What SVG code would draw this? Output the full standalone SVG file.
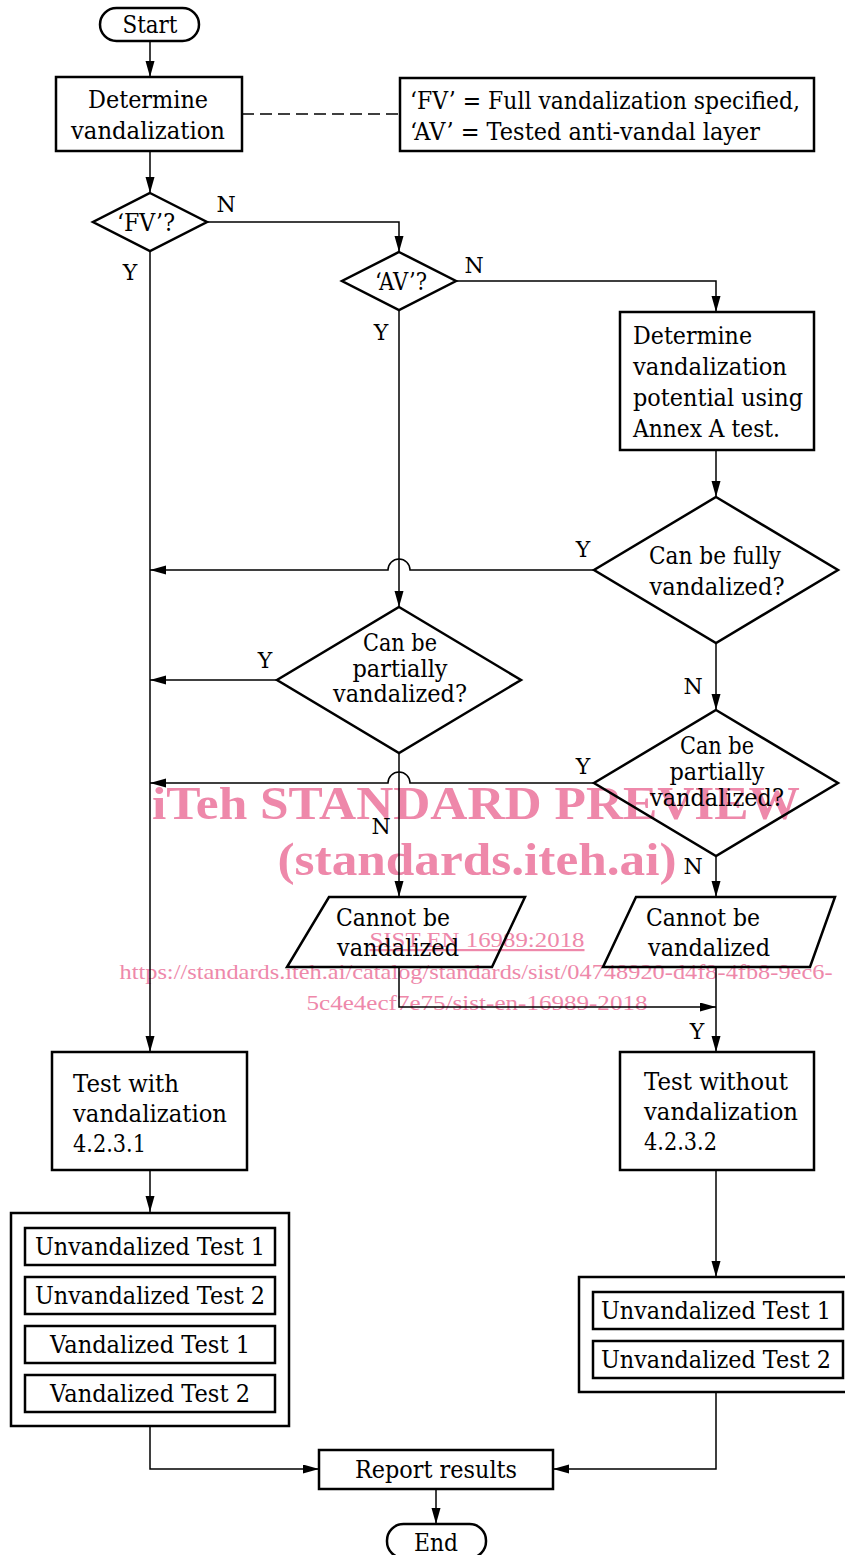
<svg xmlns="http://www.w3.org/2000/svg" width="845" height="1555" viewBox="0 0 845 1555">
<style>
.n{fill:none;stroke:#000;stroke-width:2.5}
.c{fill:none;stroke:#000;stroke-width:1.5}
.t{font-family:"DejaVu Serif","Liberation Serif",serif;font-size:24px;fill:#000}
.m{text-anchor:middle}
.l{font-family:"DejaVu Serif","Liberation Serif",serif;font-size:22px;fill:#000;text-anchor:middle}
.w{font-family:"Liberation Serif",serif;fill:#ee88aa}
</style>
<defs>
<marker id="a" markerUnits="userSpaceOnUse" markerWidth="17" markerHeight="10" refX="16" refY="4.5" orient="auto">
<path d="M0,0 L16,4.5 L0,9 z" fill="#000"/>
</marker>
</defs>
<rect width="845" height="1555" fill="#fff"/>
<g id="watermark">
<text class="w" x="476" y="819" font-size="46" font-weight="bold" text-anchor="middle" textLength="648" lengthAdjust="spacingAndGlyphs">iTeh STANDARD PREVIEW</text>
<text class="w" x="477" y="875" font-size="46" font-weight="bold" text-anchor="middle" textLength="399" lengthAdjust="spacingAndGlyphs">(standards.iteh.ai)</text>
<text class="w" x="477" y="947" font-size="22" text-anchor="middle" text-decoration="underline" textLength="215" lengthAdjust="spacingAndGlyphs">SIST EN 16989:2018</text>
<text class="w" x="476" y="979" font-size="22" text-anchor="middle" textLength="713" lengthAdjust="spacingAndGlyphs">https://standards.iteh.ai/catalog/standards/sist/04748920-d4f8-4fb8-9ec6-</text>
<text class="w" x="477" y="1010" font-size="22" text-anchor="middle" textLength="341" lengthAdjust="spacingAndGlyphs">5c4e4ecf7e75/sist-en-16989-2018</text>
</g>
<g id="connectors">
<path class="c" d="M150,41 V77" marker-end="url(#a)"/>
<path class="c" d="M150,151 V193" marker-end="url(#a)"/>
<path class="c" d="M242,114 H400" stroke-dasharray="12,6"/>
<path class="c" d="M207,222 H399 V252" marker-end="url(#a)"/>
<path class="c" d="M150,251 V1052" marker-end="url(#a)"/>
<path class="c" d="M456,281 H716 V312" marker-end="url(#a)"/>
<path class="c" d="M399,310 V607" marker-end="url(#a)"/>
<path class="c" d="M716,450 V497" marker-end="url(#a)"/>
<path class="c" d="M594,570 H410 A11,11 0 0 0 388,570 H150" marker-end="url(#a)"/>
<path class="c" d="M716,643 V710" marker-end="url(#a)"/>
<path class="c" d="M277,680 H150" marker-end="url(#a)"/>
<path class="c" d="M594,783 H410 A11,11 0 0 0 388,783 H150" marker-end="url(#a)"/>
<path class="c" d="M399,753 V897" marker-end="url(#a)"/>
<path class="c" d="M716,856 V897" marker-end="url(#a)"/>
<path class="c" d="M399,967 V1007 H716" marker-end="url(#a)"/>
<path class="c" d="M716,967 V1052" marker-end="url(#a)"/>
<path class="c" d="M150,1170 V1212" marker-end="url(#a)"/>
<path class="c" d="M716,1170 V1277" marker-end="url(#a)"/>
<path class="c" d="M150,1426 V1469 H319" marker-end="url(#a)"/>
<path class="c" d="M716,1392 V1469 H553" marker-end="url(#a)"/>
<path class="c" d="M436,1489 V1524" marker-end="url(#a)"/>
</g>
<g id="labels">
<text class="l" x="226" y="212">N</text>
<text class="l" x="130" y="280">Y</text>
<text class="l" x="474" y="273">N</text>
<text class="l" x="381" y="340">Y</text>
<text class="l" x="583" y="557">Y</text>
<text class="l" x="265" y="668">Y</text>
<text class="l" x="693" y="694">N</text>
<text class="l" x="583" y="774">Y</text>
<text class="l" x="381" y="834">N</text>
<text class="l" x="693" y="874">N</text>
<text class="l" x="697" y="1039">Y</text>
</g>
<g id="start">
<rect class="n" x="100" y="8" width="99" height="33" rx="16.5"/>
<text class="t m" x="150" y="33" textLength="55" lengthAdjust="spacingAndGlyphs">Start</text>
</g>
<g id="determine">
<rect class="n" x="56" y="77" width="186" height="74"/>
<text class="t m" x="148" y="108" textLength="120" lengthAdjust="spacingAndGlyphs">Determine</text>
<text class="t m" x="148" y="139" textLength="154" lengthAdjust="spacingAndGlyphs">vandalization</text>
</g>
<g id="legend">
<rect class="n" x="400" y="78" width="414" height="73"/>
<text class="t" x="410" y="109" textLength="390" lengthAdjust="spacingAndGlyphs">‘FV’ = Full vandalization specified,</text>
<text class="t" x="410" y="140" textLength="350" lengthAdjust="spacingAndGlyphs">‘AV’ = Tested anti-vandal layer</text>
</g>
<g id="fv">
<polygon class="n" points="150,193 207,222 150,251 93,222"/>
<text class="t m" x="146" y="231" textLength="58" lengthAdjust="spacingAndGlyphs">‘FV’?</text>
</g>
<g id="av">
<polygon class="n" points="399,252 456,281 399,310 342,281"/>
<text class="t m" x="401" y="290" textLength="52" lengthAdjust="spacingAndGlyphs">‘AV’?</text>
</g>
<g id="annex">
<rect class="n" x="620" y="312" width="194" height="138"/>
<text class="t" x="633" y="344" textLength="119" lengthAdjust="spacingAndGlyphs">Determine</text>
<text class="t" x="633" y="375" textLength="154" lengthAdjust="spacingAndGlyphs">vandalization</text>
<text class="t" x="633" y="406" textLength="170" lengthAdjust="spacingAndGlyphs">potential using</text>
<text class="t" x="633" y="437" textLength="147" lengthAdjust="spacingAndGlyphs">Annex A test.</text>
</g>
<g id="fully">
<polygon class="n" points="716,497 838,570 716,643 594,570"/>
<text class="t m" x="715" y="564" textLength="132" lengthAdjust="spacingAndGlyphs">Can be fully</text>
<text class="t m" x="717" y="595" textLength="135" lengthAdjust="spacingAndGlyphs">vandalized?</text>
</g>
<g id="partial-mid">
<polygon class="n" points="399,607 521,680 399,753 277,680"/>
<text class="t m" x="400" y="651" textLength="74" lengthAdjust="spacingAndGlyphs">Can be</text>
<text class="t m" x="400" y="677" textLength="95" lengthAdjust="spacingAndGlyphs">partially</text>
<text class="t m" x="400" y="702" textLength="134" lengthAdjust="spacingAndGlyphs">vandalized?</text>
</g>
<g id="partial-right">
<polygon class="n" points="716,710 838,783 716,856 594,783"/>
<text class="t m" x="717" y="754" textLength="74" lengthAdjust="spacingAndGlyphs">Can be</text>
<text class="t m" x="717" y="780" textLength="95" lengthAdjust="spacingAndGlyphs">partially</text>
<text class="t m" x="717" y="806" textLength="134" lengthAdjust="spacingAndGlyphs">vandalized?</text>
</g>
<g id="cannot-left">
<polygon class="n" points="329,897 525,897 492,967 287,967"/>
<text class="t" x="336" y="926" textLength="114" lengthAdjust="spacingAndGlyphs">Cannot be</text>
<text class="t" x="337" y="956" textLength="122" lengthAdjust="spacingAndGlyphs">vandalized</text>
</g>
<g id="cannot-right">
<polygon class="n" points="636,897 835,897 810,967 603,967"/>
<text class="t" x="646" y="926" textLength="114" lengthAdjust="spacingAndGlyphs">Cannot be</text>
<text class="t" x="648" y="956" textLength="122" lengthAdjust="spacingAndGlyphs">vandalized</text>
</g>
<g id="test-with">
<rect class="n" x="52" y="1052" width="195" height="118"/>
<text class="t" x="73" y="1092" textLength="106" lengthAdjust="spacingAndGlyphs">Test with</text>
<text class="t" x="73" y="1122" textLength="154" lengthAdjust="spacingAndGlyphs">vandalization</text>
<text class="t" x="73" y="1152" textLength="73" lengthAdjust="spacingAndGlyphs">4.2.3.1</text>
</g>
<g id="test-without">
<rect class="n" x="620" y="1052" width="194" height="118"/>
<text class="t" x="644" y="1090" textLength="144" lengthAdjust="spacingAndGlyphs">Test without</text>
<text class="t" x="644" y="1120" textLength="154" lengthAdjust="spacingAndGlyphs">vandalization</text>
<text class="t" x="644" y="1150" textLength="73" lengthAdjust="spacingAndGlyphs">4.2.3.2</text>
</g>
<g id="tests-left">
<rect class="n" x="11" y="1213" width="278" height="213"/>
<rect class="n" x="25" y="1228" width="250" height="37"/>
<rect class="n" x="25" y="1277" width="250" height="37"/>
<rect class="n" x="25" y="1326" width="250" height="37"/>
<rect class="n" x="25" y="1375" width="250" height="37"/>
<text class="t m" x="150" y="1255" textLength="230" lengthAdjust="spacingAndGlyphs">Unvandalized Test 1</text>
<text class="t m" x="150" y="1304" textLength="230" lengthAdjust="spacingAndGlyphs">Unvandalized Test 2</text>
<text class="t m" x="150" y="1353" textLength="200" lengthAdjust="spacingAndGlyphs">Vandalized Test 1</text>
<text class="t m" x="150" y="1402" textLength="200" lengthAdjust="spacingAndGlyphs">Vandalized Test 2</text>
</g>
<g id="tests-right">
<rect class="n" x="579" y="1277" width="270" height="115"/>
<rect class="n" x="593" y="1292" width="250" height="37"/>
<rect class="n" x="593" y="1341" width="250" height="37"/>
<text class="t m" x="716" y="1319" textLength="230" lengthAdjust="spacingAndGlyphs">Unvandalized Test 1</text>
<text class="t m" x="716" y="1368" textLength="230" lengthAdjust="spacingAndGlyphs">Unvandalized Test 2</text>
</g>
<g id="report">
<rect class="n" x="319" y="1450" width="234" height="39"/>
<text class="t m" x="436" y="1478" textLength="162" lengthAdjust="spacingAndGlyphs">Report results</text>
</g>
<g id="end">
<rect class="n" x="387" y="1524" width="99" height="34" rx="16.5"/>
<text class="t m" x="436" y="1551" textLength="44" lengthAdjust="spacingAndGlyphs">End</text>
</g>
</svg>
